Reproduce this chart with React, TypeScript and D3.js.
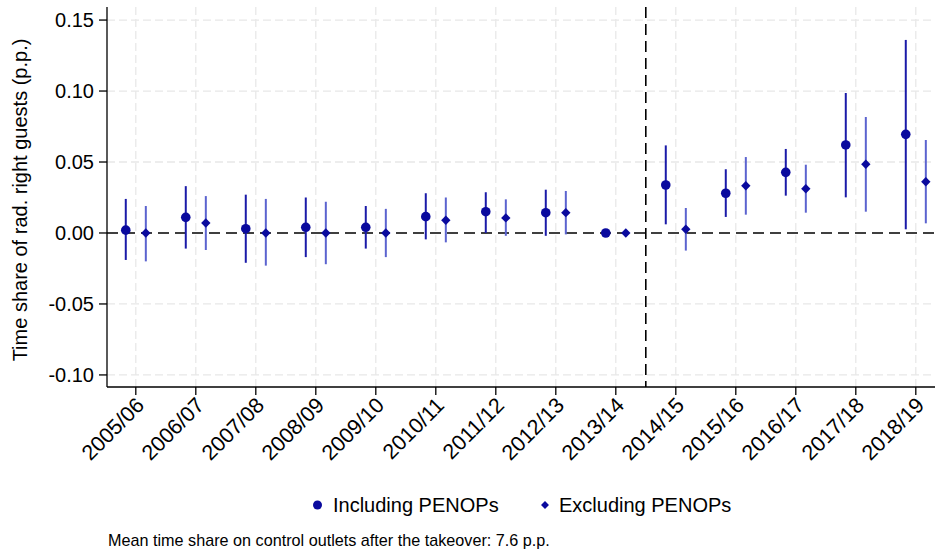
import React from "react";
import * as d3 from "d3";

const seasons = ["2005/06","2006/07","2007/08","2008/09","2009/10","2010/11","2011/12","2012/13","2013/14","2014/15","2015/16","2016/17","2017/18","2018/19"];
const inclEst = [0.002, 0.011, 0.003, 0.004, 0.004, 0.0115, 0.015, 0.0143, 0.0, 0.0338, 0.028, 0.0427, 0.062, 0.0695];
const inclLo = [-0.019, -0.011, -0.021, -0.017, -0.011, -0.0045, 0.0, -0.002, 0.0, 0.0061, 0.0113, 0.0263, 0.0251, 0.0026];
const inclHi = [0.024, 0.033, 0.027, 0.025, 0.019, 0.028, 0.0287, 0.0305, 0.0, 0.0617, 0.0449, 0.0592, 0.0986, 0.136];
const exclEst = [0.0, 0.007, 0.0, 0.0, 0.0, 0.009, 0.0106, 0.0143, 0.0, 0.0026, 0.0333, 0.0312, 0.0484, 0.0361];
const exclLo = [-0.020, -0.012, -0.023, -0.022, -0.017, -0.0066, -0.002, -0.001, 0.0, -0.0124, 0.0129, 0.0143, 0.015, 0.0068];
const exclHi = [0.019, 0.026, 0.024, 0.022, 0.017, 0.025, 0.0237, 0.0296, 0.0, 0.0176, 0.0535, 0.0481, 0.0817, 0.0655];
const yTicks = [-0.10, -0.05, 0.0, 0.05, 0.10, 0.15];
const legendLabels = ["Including PENOPs", "Excluding PENOPs"];
const yTitle = "Time share of rad. right guests (p.p.)";
const footnote = "Mean time share on control outlets after the takeover: 7.6 p.p.";
const treatmentBreak = 8.5;

const W = 936, H = 552;
const left = 107, right = 935, top = 7, bottom = 387;
const font = "'Liberation Sans', Arial, Helvetica, sans-serif";
const navy = "#0a0a9e";
const inclCI = "#1a1aa8";
const exclCI = "#5b63cf";

export default function App() {
  const x = d3.scaleLinear().domain([-0.48, 13.32]).range([left, right]);
  const y = d3.scaleLinear().domain([-0.1085, 0.1592]).range([bottom, top]);
  const off = 0.167;
  const diamond = d3.symbol().type(d3.symbolDiamond2).size(56)();
  const diamondLeg = d3.symbol().type(d3.symbolDiamond2).size(40)();

  return (
    <svg width={W} height={H} style={{ position: "absolute", left: 0, top: 0, background: "#fff" }} fontFamily={font}>
      <rect width={W} height={H} fill="#fff" />
      {/* grid */}
      {yTicks.filter(t => t !== 0).map(t => (
        <line key={"gy" + t} x1={left} x2={right} y1={y(t)} y2={y(t)} stroke="#e8e8e8" strokeWidth={1.3} strokeDasharray="8,4" />
      ))}
      {seasons.map((s, i) => (
        <line key={"gx" + s} x1={x(i)} x2={x(i)} y1={top} y2={bottom} stroke="#e8e8e8" strokeWidth={1.3} strokeDasharray="8,4" />
      ))}
      {/* reference lines */}
      <line x1={left} x2={right} y1={y(0)} y2={y(0)} stroke="#000" strokeWidth={1.6} strokeDasharray="11,6" />
      <line x1={x(treatmentBreak)} x2={x(treatmentBreak)} y1={top} y2={bottom} stroke="#000" strokeWidth={1.6} strokeDasharray="11,6" />
      {/* CIs */}
      {seasons.map((s, i) => (
        <g key={"ci" + s}>
          <line x1={x(i - off)} x2={x(i - off)} y1={y(inclLo[i])} y2={y(inclHi[i])} stroke={inclCI} strokeWidth={2} />
          <line x1={x(i + off)} x2={x(i + off)} y1={y(exclLo[i])} y2={y(exclHi[i])} stroke={exclCI} strokeWidth={2} />
        </g>
      ))}
      {/* markers */}
      {seasons.map((s, i) => (
        <g key={"pt" + s}>
          <circle cx={x(i - off)} cy={y(inclEst[i])} r={4.8} fill={navy} />
          <path d={diamond} transform={`translate(${x(i + off)},${y(exclEst[i])})`} fill={navy} />
        </g>
      ))}
      {/* axes */}
      <line x1={left} x2={left} y1={top} y2={bottom} stroke="#000" strokeWidth={1.3} />
      <line x1={left} x2={right} y1={bottom} y2={bottom} stroke="#000" strokeWidth={1.3} />
      {yTicks.map(t => (
        <g key={"yt" + t}>
          <line x1={left - 8} x2={left} y1={y(t)} y2={y(t)} stroke="#000" strokeWidth={1.3} />
          <text x={left - 13} y={y(t)} dy="0.36em" textAnchor="end" fontSize={20} fill="#000">{d3.format(".2f")(t).replace("−", "-")}</text>
        </g>
      ))}
      {seasons.map((s, i) => (
        <g key={"xt" + s}>
          <line x1={x(i)} x2={x(i)} y1={bottom} y2={bottom + 8} stroke="#000" strokeWidth={1.3} />
          <text transform={`translate(${x(i) - 1},${bottom + 9}) rotate(-45)`} textAnchor="end" fontSize={21.5} dy="0.7em" fill="#000">{s}</text>
        </g>
      ))}
      <text transform={`translate(27,${(top + bottom) / 2 + 3}) rotate(-90)`} textAnchor="middle" fontSize={20} fill="#000">{yTitle}</text>
      {/* legend */}
      <circle cx={317.5} cy={505} r={4.5} fill={navy} />
      <text x={333} y={512} fontSize={20} fill="#000">{legendLabels[0]}</text>
      <path d={diamondLeg} transform="translate(545,505)" fill={navy} />
      <text x={559} y={512} fontSize={20} fill="#000">{legendLabels[1]}</text>
      <text x={108} y={546} fontSize={16.2} fill="#000">{footnote}</text>
    </svg>
  );
}
